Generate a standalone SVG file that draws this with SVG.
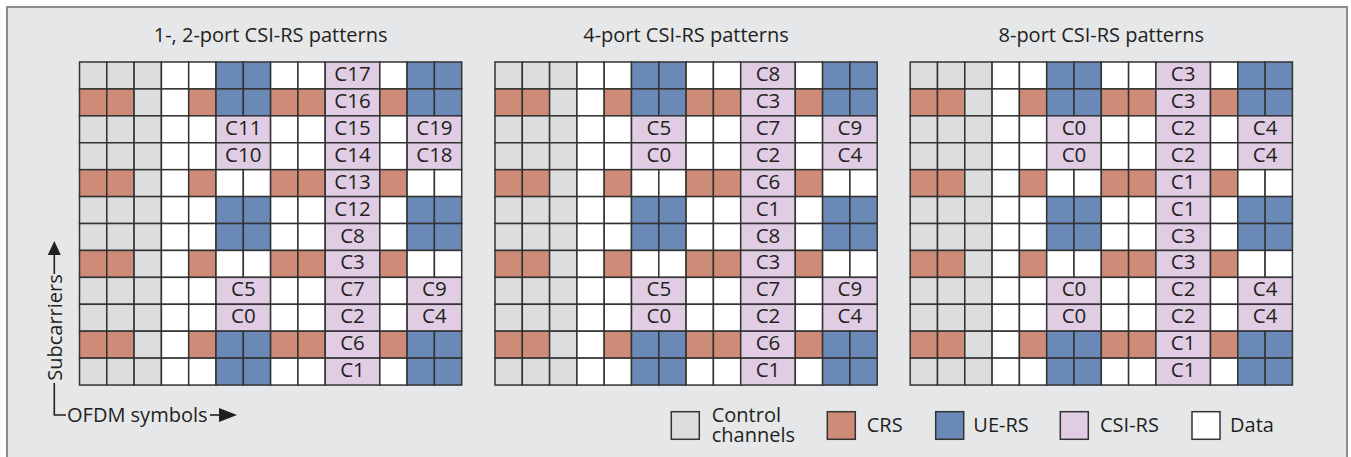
<svg xmlns="http://www.w3.org/2000/svg" xmlns:xlink="http://www.w3.org/1999/xlink" width="1351" height="457" viewBox="0 0 1351 457">
  <style>
    text { font-family: "Open Sans", "Noto Sans", "DejaVu Sans", sans-serif; font-size: 20px; fill: #231f20; }
    .cell { stroke: #333333; stroke-width: 1.5; }
    .ctl { fill: #dcdddf; }
    .crs { fill: #cd8b78; }
    .uers { fill: #6b89b6; }
    .csi { fill: #e0cce3; }
    .dat { fill: #ffffff; }
    .lbl { text-anchor: middle; font-size: 20.5px; }
    .title { text-anchor: middle; }
    .axis { stroke: #231f20; stroke-width: 1.6; fill: none; }
    .head { fill: #231f20; stroke: none; }
  </style>
  <defs>
    <!-- Row type A: control, data, UE-RS, data, CSI pair, data, UE-RS -->
    <g id="rowA">
      <rect class="cell ctl" x="0" y="0" width="27.3" height="26.92"/>
      <rect class="cell ctl" x="27.3" y="0" width="27.3" height="26.92"/>
      <rect class="cell ctl" x="54.6" y="0" width="27.3" height="26.92"/>
      <rect class="cell dat" x="81.9" y="0" width="27.3" height="26.92"/>
      <rect class="cell dat" x="109.2" y="0" width="27.3" height="26.92"/>
      <rect class="cell uers" x="136.5" y="0" width="27.3" height="26.92"/>
      <rect class="cell uers" x="163.8" y="0" width="27.3" height="26.92"/>
      <rect class="cell dat" x="191.1" y="0" width="27.3" height="26.92"/>
      <rect class="cell dat" x="218.4" y="0" width="27.3" height="26.92"/>
      <rect class="cell csi" x="245.7" y="0" width="54.6" height="26.92"/>
      <rect class="cell dat" x="300.3" y="0" width="27.3" height="26.92"/>
      <rect class="cell uers" x="327.6" y="0" width="27.3" height="26.92"/>
      <rect class="cell uers" x="354.9" y="0" width="27.3" height="26.92"/>
    </g>
    <!-- Row type B: CRS row with UE-RS -->
    <g id="rowB">
      <rect class="cell crs" x="0" y="0" width="27.3" height="26.92"/>
      <rect class="cell crs" x="27.3" y="0" width="27.3" height="26.92"/>
      <rect class="cell ctl" x="54.6" y="0" width="27.3" height="26.92"/>
      <rect class="cell dat" x="81.9" y="0" width="27.3" height="26.92"/>
      <rect class="cell crs" x="109.2" y="0" width="27.3" height="26.92"/>
      <rect class="cell uers" x="136.5" y="0" width="27.3" height="26.92"/>
      <rect class="cell uers" x="163.8" y="0" width="27.3" height="26.92"/>
      <rect class="cell crs" x="191.1" y="0" width="27.3" height="26.92"/>
      <rect class="cell crs" x="218.4" y="0" width="27.3" height="26.92"/>
      <rect class="cell csi" x="245.7" y="0" width="54.6" height="26.92"/>
      <rect class="cell crs" x="300.3" y="0" width="27.3" height="26.92"/>
      <rect class="cell uers" x="327.6" y="0" width="27.3" height="26.92"/>
      <rect class="cell uers" x="354.9" y="0" width="27.3" height="26.92"/>
    </g>
    <!-- Row type C: three CSI-RS pairs -->
    <g id="rowC">
      <rect class="cell ctl" x="0" y="0" width="27.3" height="26.92"/>
      <rect class="cell ctl" x="27.3" y="0" width="27.3" height="26.92"/>
      <rect class="cell ctl" x="54.6" y="0" width="27.3" height="26.92"/>
      <rect class="cell dat" x="81.9" y="0" width="27.3" height="26.92"/>
      <rect class="cell dat" x="109.2" y="0" width="27.3" height="26.92"/>
      <rect class="cell csi" x="136.5" y="0" width="54.6" height="26.92"/>
      <rect class="cell dat" x="191.1" y="0" width="27.3" height="26.92"/>
      <rect class="cell dat" x="218.4" y="0" width="27.3" height="26.92"/>
      <rect class="cell csi" x="245.7" y="0" width="54.6" height="26.92"/>
      <rect class="cell dat" x="300.3" y="0" width="27.3" height="26.92"/>
      <rect class="cell csi" x="327.6" y="0" width="54.6" height="26.92"/>
    </g>
    <!-- Row type D: CRS row without UE-RS -->
    <g id="rowD">
      <rect class="cell crs" x="0" y="0" width="27.3" height="26.92"/>
      <rect class="cell crs" x="27.3" y="0" width="27.3" height="26.92"/>
      <rect class="cell ctl" x="54.6" y="0" width="27.3" height="26.92"/>
      <rect class="cell dat" x="81.9" y="0" width="27.3" height="26.92"/>
      <rect class="cell crs" x="109.2" y="0" width="27.3" height="26.92"/>
      <rect class="cell dat" x="136.5" y="0" width="27.3" height="26.92"/>
      <rect class="cell dat" x="163.8" y="0" width="27.3" height="26.92"/>
      <rect class="cell crs" x="191.1" y="0" width="27.3" height="26.92"/>
      <rect class="cell crs" x="218.4" y="0" width="27.3" height="26.92"/>
      <rect class="cell csi" x="245.7" y="0" width="54.6" height="26.92"/>
      <rect class="cell crs" x="300.3" y="0" width="27.3" height="26.92"/>
      <rect class="cell dat" x="327.6" y="0" width="27.3" height="26.92"/>
      <rect class="cell dat" x="354.9" y="0" width="27.3" height="26.92"/>
    </g>
    <!-- One resource block pair: 14 OFDM symbols x 12 subcarriers -->
    <g id="rbPair">
      <use xlink:href="#rowA" href="#rowA" y="0"/>
      <use xlink:href="#rowB" href="#rowB" y="26.92"/>
      <use xlink:href="#rowC" href="#rowC" y="53.84"/>
      <use xlink:href="#rowC" href="#rowC" y="80.76"/>
      <use xlink:href="#rowD" href="#rowD" y="107.68"/>
      <use xlink:href="#rowA" href="#rowA" y="134.6"/>
      <use xlink:href="#rowA" href="#rowA" y="161.52"/>
      <use xlink:href="#rowD" href="#rowD" y="188.44"/>
      <use xlink:href="#rowC" href="#rowC" y="215.36"/>
      <use xlink:href="#rowC" href="#rowC" y="242.28"/>
      <use xlink:href="#rowB" href="#rowB" y="269.2"/>
      <use xlink:href="#rowA" href="#rowA" y="296.12"/>
    </g>
  </defs>

  <!-- panel background -->
  <rect x="7" y="7" width="1340" height="462" fill="#e6e7e9" stroke="#8c8c8c" stroke-width="2"/>

  <!-- titles -->
  <text class="title" x="270.6" y="41.7">1-, 2-port CSI-RS patterns</text>
  <text class="title" x="686" y="41.7">4-port CSI-RS patterns</text>
  <text class="title" x="1101.3" y="41.7">8-port CSI-RS patterns</text>

  <!-- 1-, 2-port grid -->
  <g id="grid-2port" transform="translate(79.5,62)">
    <use xlink:href="#rbPair" href="#rbPair"/>
    <g class="lbl">
      <text class="lbl" x="273" y="19">C17</text>
      <text class="lbl" x="273" y="45.92">C16</text>
      <text class="lbl" x="163.8" y="72.84">C11</text><text class="lbl" x="273" y="72.84">C15</text><text class="lbl" x="354.9" y="72.84">C19</text>
      <text class="lbl" x="163.8" y="99.76">C10</text><text class="lbl" x="273" y="99.76">C14</text><text class="lbl" x="354.9" y="99.76">C18</text>
      <text class="lbl" x="273" y="126.68">C13</text>
      <text class="lbl" x="273" y="153.6">C12</text>
      <text class="lbl" x="273" y="180.52">C8</text>
      <text class="lbl" x="273" y="207.44">C3</text>
      <text class="lbl" x="163.8" y="234.36">C5</text><text class="lbl" x="273" y="234.36">C7</text><text class="lbl" x="354.9" y="234.36">C9</text>
      <text class="lbl" x="163.8" y="261.28">C0</text><text class="lbl" x="273" y="261.28">C2</text><text class="lbl" x="354.9" y="261.28">C4</text>
      <text class="lbl" x="273" y="288.2">C6</text>
      <text class="lbl" x="273" y="315.12">C1</text>
    </g>
  </g>

  <!-- 4-port grid -->
  <g id="grid-4port" transform="translate(495,62)">
    <use xlink:href="#rbPair" href="#rbPair"/>
    <g class="lbl">
      <text class="lbl" x="273" y="19">C8</text>
      <text class="lbl" x="273" y="45.92">C3</text>
      <text class="lbl" x="163.8" y="72.84">C5</text><text class="lbl" x="273" y="72.84">C7</text><text class="lbl" x="354.9" y="72.84">C9</text>
      <text class="lbl" x="163.8" y="99.76">C0</text><text class="lbl" x="273" y="99.76">C2</text><text class="lbl" x="354.9" y="99.76">C4</text>
      <text class="lbl" x="273" y="126.68">C6</text>
      <text class="lbl" x="273" y="153.6">C1</text>
      <text class="lbl" x="273" y="180.52">C8</text>
      <text class="lbl" x="273" y="207.44">C3</text>
      <text class="lbl" x="163.8" y="234.36">C5</text><text class="lbl" x="273" y="234.36">C7</text><text class="lbl" x="354.9" y="234.36">C9</text>
      <text class="lbl" x="163.8" y="261.28">C0</text><text class="lbl" x="273" y="261.28">C2</text><text class="lbl" x="354.9" y="261.28">C4</text>
      <text class="lbl" x="273" y="288.2">C6</text>
      <text class="lbl" x="273" y="315.12">C1</text>
    </g>
  </g>

  <!-- 8-port grid -->
  <g id="grid-8port" transform="translate(910.2,62)">
    <use xlink:href="#rbPair" href="#rbPair"/>
    <g class="lbl">
      <text class="lbl" x="273" y="19">C3</text>
      <text class="lbl" x="273" y="45.92">C3</text>
      <text class="lbl" x="163.8" y="72.84">C0</text><text class="lbl" x="273" y="72.84">C2</text><text class="lbl" x="354.9" y="72.84">C4</text>
      <text class="lbl" x="163.8" y="99.76">C0</text><text class="lbl" x="273" y="99.76">C2</text><text class="lbl" x="354.9" y="99.76">C4</text>
      <text class="lbl" x="273" y="126.68">C1</text>
      <text class="lbl" x="273" y="153.6">C1</text>
      <text class="lbl" x="273" y="180.52">C3</text>
      <text class="lbl" x="273" y="207.44">C3</text>
      <text class="lbl" x="163.8" y="234.36">C0</text><text class="lbl" x="273" y="234.36">C2</text><text class="lbl" x="354.9" y="234.36">C4</text>
      <text class="lbl" x="163.8" y="261.28">C0</text><text class="lbl" x="273" y="261.28">C2</text><text class="lbl" x="354.9" y="261.28">C4</text>
      <text class="lbl" x="273" y="288.2">C1</text>
      <text class="lbl" x="273" y="315.12">C1</text>
    </g>
  </g>

  <!-- axis arrows -->
  <g id="axes">
    <line class="axis" x1="54.3" y1="274" x2="54.3" y2="252"/>
    <polygon class="head" points="54.3,241 47.8,255 60.8,255"/>
    <polyline class="axis" points="54.3,383 54.3,415 66,415"/>
    <line class="axis" x1="210" y1="415" x2="222" y2="415"/>
    <polygon class="head" points="237,415 219,408 219,422"/>
  </g>
  <text transform="translate(61.5,327.5) rotate(-90)" text-anchor="middle">Subcarriers</text>
  <text x="67" y="421.7">OFDM symbols</text>

  <!-- legend -->
  <g id="legend-control">
    <rect class="cell ctl" x="671.3" y="411.7" width="28" height="27.6"/>
    <text x="711.7" y="421.7">Control<tspan x="711.7" dy="20.6">channels</tspan></text>
  </g>
  <g id="legend-crs">
    <rect class="cell crs" x="827.3" y="411.7" width="28" height="27.6"/>
    <text x="866.7" y="431.7">CRS</text>
  </g>
  <g id="legend-uers">
    <rect class="cell uers" x="935.7" y="411.7" width="28" height="27.6"/>
    <text x="973.3" y="431.7">UE-RS</text>
  </g>
  <g id="legend-csirs">
    <rect class="cell csi" x="1060.3" y="411.7" width="28" height="27.6"/>
    <text x="1100" y="431.7">CSI-RS</text>
  </g>
  <g id="legend-data">
    <rect class="cell dat" x="1192" y="411.7" width="28" height="27.6"/>
    <text x="1230" y="431.7">Data</text>
  </g>
</svg>
